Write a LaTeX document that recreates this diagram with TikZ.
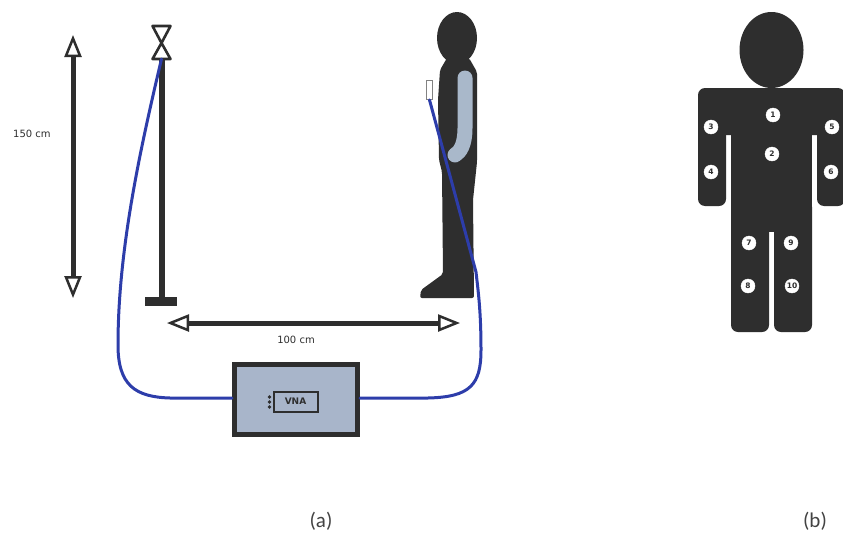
\documentclass[tikz,border=0pt]{standalone}
\usepackage{fontspec}
\setmainfont{DejaVu Sans}
\newfontfamily\capfont{Carlito}
\usetikzlibrary{arrows.meta}
\definecolor{ink}{HTML}{2E2E2E}
\definecolor{cablecol}{HTML}{2D3DAA}
\definecolor{boxfill}{HTML}{A8B5CA}
\definecolor{armfill}{HTML}{A9B8CA}
\tikzset{
  dimline/.style={ink, line width=5pt,
    {Triangle[open, length=22pt, width=17pt, line width=2.5pt, fill=white]}-{Triangle[open, length=22pt, width=17pt, line width=2.5pt, fill=white]}},
  dimlabel/.style={font=\fontsize{10}{11}\selectfont, text=ink, inner sep=0pt},
  cable/.style={cablecol, line width=3pt, line cap=round},
  sensor/.style={circle, fill=white, draw=white, inner sep=0pt, minimum size=14pt,
    font=\fontsize{7.5}{7.5}\bfseries, text=ink},
  caption/.style={font=\capfont\fontsize{21}{22}\selectfont, text=ink!90, inner sep=0pt}
}
\begin{document}
\begin{tikzpicture}[x=1pt,y=-1pt]
\useasboundingbox[fill=white] (0,0) rectangle (843,533);

% ---------- (a) measurement set-up ----------
% height dimension
\coordinate (htop) at (73,35);
\coordinate (hbot) at (73,298);
\draw[dimline] (htop) -- (hbot);
\node[dimlabel] (hlabel) at (32,134) {150 cm};

% antenna pole with base
\coordinate (poletop) at (161.5,59);
\coordinate (polefoot) at (161.5,299);
\draw[ink, line width=6pt] (poletop) -- (polefoot);
\fill[ink] (145,297) rectangle (177,306);
% antenna (two triangles)
\draw[ink, line width=2.6pt, fill=white, line join=round]
  (152.5,26) -- (170.5,26) -- (161.5,43) -- cycle;
\draw[ink, line width=2.6pt, fill=white, line join=round]
  (161.5,43) -- (152.5,59) -- (170.5,59) -- cycle;

% distance dimension
\coordinate (dleft) at (167,323);
\coordinate (dright) at (460,323);
\draw[dimline] (dleft) -- (dright);
\node[dimlabel] (dlabel) at (296,340) {100 cm};

% person in side view
\fill[ink] (457,38) ellipse [x radius=20pt, y radius=26pt];
\fill[ink, rounded corners=2pt]
  (447,58) -- (440,70) -- (438,100) -- (439,160) -- (442,172) -- (443,274)
  -- (421,290) -- (420,298) -- (474,298) -- (473,200) -- (477,162)
  -- (477,72) -- (469,58) -- cycle;
% arm
\draw[armfill, line width=15pt, line cap=round, line join=round]
  (465,78) -- (465,128) .. controls (465,145) and (460,152) .. (455,155);
% phone
\node[draw=ink!60, fill=white, line width=0.8pt, minimum width=6pt, minimum height=19pt,
  inner sep=0pt] (phone) at (429.5,90) {};

% VNA
\node[draw=ink, fill=boxfill, line width=5pt, minimum width=123pt, minimum height=70pt,
  inner sep=0pt] (vna) at (296,399.5) {};
\node[draw=ink, fill=boxfill, line width=2pt, minimum width=44pt, minimum height=20pt,
  inner sep=0pt, font=\fontsize{9}{9}\selectfont\bfseries, text=ink] (vnalabel) at (295.5,401.5) {VNA};
\foreach \yy in {397,402,407}
  \fill[ink] (269.5,\yy) circle [radius=1.8pt];

% cables
\draw[cable] (vna.west |- 0,398) -- (170,398)
  .. controls (135,397) and (118,385) .. (118,345)
  .. controls (118,250) and (140,150) .. (poletop);
\draw[cable] (vna.east |- 0,398) -- (428,398)
  .. controls (470,397) and (481,385) .. (481,350)
  .. controls (481,310) and (478,290) .. (476,272)
  -- (phone.south);

\node[caption] (capa) at (321,521) {(a)};

% ---------- (b) sensor positions on the body ----------
\fill[ink] (771.5,50) ellipse [x radius=32pt, y radius=38pt];
\fill[ink, rounded corners=7pt] (698,88) rectangle (845,135);
\fill[ink, rounded corners=7pt] (698,110) rectangle (726,206);
\fill[ink, rounded corners=7pt] (817,110) rectangle (845,206);
\fill[ink, rounded corners=7pt] (731,200) rectangle (769,332);
\fill[ink, rounded corners=7pt] (774,200) rectangle (812,332);
\fill[ink] (731,110) rectangle (812,232);
\fill[ink] (726,110) rectangle (731,125);
\fill[ink] (812,110) rectangle (817,125);

\node[sensor] (p1) at (773,115) {1};
\node[sensor] (p2) at (772,154) {2};
\node[sensor] (p3) at (711,127) {3};
\node[sensor] (p4) at (711,172) {4};
\node[sensor] (p5) at (832,127) {5};
\node[sensor] (p6) at (831,172) {6};
\node[sensor] (p7) at (749,243) {7};
\node[sensor] (p8) at (748,286) {8};
\node[sensor] (p9) at (791,243) {9};
\node[sensor] (p10) at (792,286) {10};

\node[caption] (capb) at (815,521) {(b)};
\end{tikzpicture}
\end{document}
